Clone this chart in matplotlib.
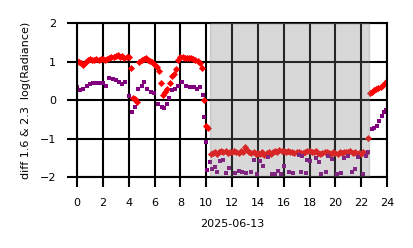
import numpy as np
import matplotlib
matplotlib.use("Agg")
import matplotlib.pyplot as plt

# diferença 1.6 & 2.3 (vermelho), amostras a cada 10 min
red_t = np.arange(145) / 6.0
red_v = [
    1.02, 1.00, 0.97, 0.92, 0.98, 1.03,
    1.06, 1.05, 1.04, 1.06, 1.05, 1.07,
    1.07, 1.04, 1.06, 1.08, 1.12, 1.13,
    1.15, 1.16, 1.12, 1.14, 1.10, 1.13,
    1.12, 0.83, 0.05, 0.02, -0.05, 1.00,
    1.03, 1.06, 1.08, 1.04, 1.02, 0.98,
    0.92, 0.85, 0.75, 0.45, 0.12, 0.20,
    0.28, 0.45, 0.62, 0.68, 0.80, 1.05,
    1.12, 1.13, 1.10, 1.09, 1.08, 1.08,
    1.06, 1.05, 1.02, 0.95, 0.82, 0.00,
    -0.68, -0.72, -1.40, -1.38, -1.36, -1.40,
    -1.35, -1.32, -1.36, -1.33, -1.38, -1.34,
    -1.36, -1.31, -1.35, -1.38, -1.33, -1.36,
    -1.22, -1.30, -1.36, -1.38, -1.35, -1.40,
    -1.37, -1.39, -1.36, -1.42, -1.38, -1.34,
    -1.40, -1.36, -1.33, -1.35, -1.30, -1.32,
    -1.31, -1.34, -1.33, -1.35, -1.36, -1.37,
    -1.35, -1.36, -1.38, -1.37, -1.35, -1.33,
    -1.31, -1.34, -1.36, -1.33, -1.37, -1.39,
    -1.38, -1.35, -1.34, -1.37, -1.40, -1.36,
    -1.37, -1.39, -1.35, -1.38, -1.36, -1.34,
    -1.36, -1.33, -1.37, -1.35, -1.39, -1.38,
    -1.40, -1.36, -1.38, -0.98, 0.18, 0.22,
    0.25, 0.28, 0.32, 0.35, 0.40, 0.44,
    0.50,
]

# segunda série (roxo)
pur_t = [0.0, 0.25, 0.5, 0.75, 1.0, 1.25, 1.5, 1.75, 2.0, 2.25, 2.5, 2.75,
         3.0, 3.25, 3.5, 3.75, 4.0, 4.25, 4.5, 4.75, 5.0, 5.2, 5.45, 5.7,
         5.95, 6.3, 6.55, 6.75, 6.95, 7.1, 7.35, 7.6, 7.8, 8.1, 8.4, 8.75,
         9.05, 9.3, 9.5, 9.75, 9.85, 9.97, 10.1,
         10.3, 10.45, 10.65, 10.85, 11.1, 11.3, 11.55, 11.75, 12.25, 12.5,
         12.8, 13.1, 13.5, 13.67, 13.9, 14.2, 14.4, 14.8, 15.1, 15.35, 15.55,
         15.8, 16.05, 16.4, 16.75, 17.15, 17.35, 17.4, 17.7, 17.8, 18.0,
         18.5, 18.7, 18.85, 19.3, 19.45, 19.7, 20.1, 20.45, 20.7, 21.0,
         21.3, 21.55, 21.75, 22.1, 22.4, 22.55,
         22.8, 23.0, 23.2, 23.4, 23.6, 23.75, 23.9]
pur_v = [0.33, 0.27, 0.30, 0.37, 0.43, 0.45, 0.44, 0.45, 0.45, 0.37, 0.58, 0.55,
         0.51, 0.46, 0.43, 0.48, 0.10, -0.30, -0.19, 0.30, 0.36, 0.47, 0.30, 0.21,
         0.19, -0.09, -0.17, -0.21, -0.11, 0.05, 0.26, 0.30, 0.37, 0.46, 0.37, 0.35,
         0.35, 0.30, 0.33, 0.12, -0.44, -1.10, -1.82,
         -1.60, -1.78, -1.75, -1.88, -1.58, -1.55, -1.90, -1.76, -1.90, -1.85,
         -1.86, -1.90, -1.88, -1.55, -1.92, -1.57, -1.72, -1.47, -1.93, -1.92, -1.85,
         -1.93, -1.72, -1.88, -1.90, -1.43, -1.88, -1.45, -1.89, -1.55, -1.58,
         -1.50, -1.62, -1.93, -1.87, -1.46, -1.53, -1.91, -1.90, -1.50, -1.46,
         -1.87, -1.80, -1.47, -1.92, -1.46, -1.36,
         -0.74, -0.72, -0.68, -0.55, -0.42, -0.32, -0.25]

shade = (10.3, 22.6)

plt.rcParams['font.family'] = 'DejaVu Sans'
plt.rcParams['font.size'] = 8

fig = plt.figure(figsize=(4.14, 2.48), dpi=100)
ax = fig.add_axes([0.186, 0.286, 0.749, 0.621])

ax.scatter(red_t, red_v, marker='D', s=13, color='red', linewidths=0, zorder=2)
ax.scatter(pur_t, pur_v, marker='s', s=8, color='purple', linewidths=0, zorder=2)
ax.axvspan(*shade, color='grey', alpha=0.3, zorder=3)

ax.set_xlim(0, 24)
ax.set_ylim(-2, 2)
ax.set_xticks(range(0, 25, 2))
ax.set_yticks([-2, -1, 0, 1, 2])
ax.grid(True, color='black', lw=1.5, zorder=1)
ax.set_axisbelow(True)
for s in ax.spines.values():
    s.set_color('black')
    s.set_linewidth(1.5)
ax.tick_params(length=7, width=1.5, color='black', pad=8, labelsize=8)
ax.set_xlabel('2025-06-13', fontsize=8, labelpad=8)
ax.set_ylabel('diff 1.6 & 2.3  log(Radiance)', fontsize=8, labelpad=6)

fig.savefig('out.png', dpi=100)
